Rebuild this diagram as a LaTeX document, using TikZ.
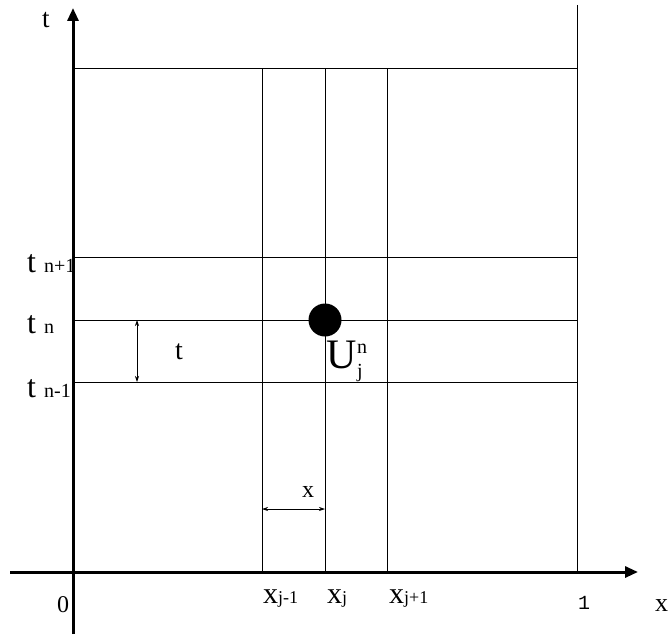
\documentclass[tikz,border=0pt]{standalone}
\usepackage{fontspec}
\setmainfont{Liberation Serif}
\newfontfamily\monofont{Liberation Mono}
\usetikzlibrary{arrows.meta}
\newcommand\subfs{\fontsize{18}{18}\selectfont}
\newcommand\tsubfs{\fontsize{20}{20}\selectfont}
\tikzset{
  axis/.style={line width=3pt,-{Triangle[length=13pt,width=11pt]}},
  grid line/.style={line width=1pt},
  dim/.style={line width=0.7pt,{Stealth[length=6pt,width=4pt]}-{Stealth[length=6pt,width=4pt]}},
  lbl/.style={inner sep=0pt,anchor=base west,font=\fontsize{30}{30}\selectfont},
  tlbl/.style={inner sep=0pt,anchor=base west,font=\fontsize{32}{32}\selectfont},
  sublbl/.style={font=\fontsize{20}{20}\selectfont}
}
\begin{document}
\begin{tikzpicture}[x=1pt,y=-1pt]
\useasboundingbox (0,0) rectangle (671,634);
% coordinates
\coordinate (o) at (73,572);
\coordinate (xs) at (10,572);
\coordinate (xe) at (638,572);
\coordinate (ys) at (73,634);
\coordinate (ye) at (73,8);
% grid
\coordinate (tl) at (73,68);  \coordinate (tr) at (577,68);
\coordinate (a1) at (73,257); \coordinate (a2) at (577,257);
\coordinate (b1) at (73,320); \coordinate (b2) at (577,320);
\coordinate (c1) at (73,382); \coordinate (c2) at (577,382);
\coordinate (v1t) at (262,68); \coordinate (v1b) at (262,572);
\coordinate (v2t) at (325,68); \coordinate (v2b) at (325,572);
\coordinate (v3t) at (387,68); \coordinate (v3b) at (387,572);
\coordinate (v4t) at (577,5);  \coordinate (v4b) at (577,572);
\draw[grid line] (tl) -- (tr);
\draw[grid line] (a1) -- (a2);
\draw[grid line] (b1) -- (b2);
\draw[grid line] (c1) -- (c2);
\draw[grid line] (v1t) -- (v1b);
\draw[grid line] (v2t) -- (v2b);
\draw[grid line] (v3t) -- (v3b);
\draw[grid line] (v4t) -- (v4b);
% axes
\draw[axis] (xs) -- (xe);
\draw[axis] (ys) -- (ye);
% dot
\node[circle,fill=black,minimum size=33pt,inner sep=0pt] (dot) at (325,320) {};
% dimension arrows
\coordinate (dt1) at (137,320); \coordinate (dt2) at (137,382);
\draw[dim] (dt1) -- (dt2);
\coordinate (dx1) at (262,509); \coordinate (dx2) at (325,509);
\draw[dim] (dx1) -- (dx2);
% labels
\node[lbl,font=\fontsize{27}{27}\selectfont] (tlab) at (42,28) {t};
\node[tlbl] (tn1) at (27,272) {t {\tsubfs n+1}};
\node[tlbl] (tn) at (27,333) {t {\tsubfs n}};
\node[tlbl] (tnm) at (27,397) {t {\tsubfs n-1}};
\node[lbl,font=\fontsize{28}{28}\selectfont] (dtlab) at (175,359) {t};
\node[lbl,font=\fontsize{24}{24}\selectfont] (dxlab) at (302,497) {x};
\node[lbl,font=\fontsize{42}{42}\selectfont] (U) at (326,368) {U};
\node[lbl,sublbl] (Un) at (357,353) {n};
\node[lbl,sublbl] (Uj) at (357,377) {j};
\node[lbl] (xjm) at (263,603) {x{\subfs j-1}};
\node[lbl] (xj) at (327,603) {x{\subfs j}};
\node[lbl] (xjp) at (389,603) {x{\subfs j+1}};
\node[lbl,font=\fontsize{24}{24}\selectfont] (zero) at (57,612) {0};
\node[lbl,font=\monofont\fontsize{20}{20}\selectfont] (one) at (578,609) {1};
\node[lbl,font=\fontsize{26}{26}\selectfont] (xlab) at (655,611) {x};
\end{tikzpicture}
\end{document}
